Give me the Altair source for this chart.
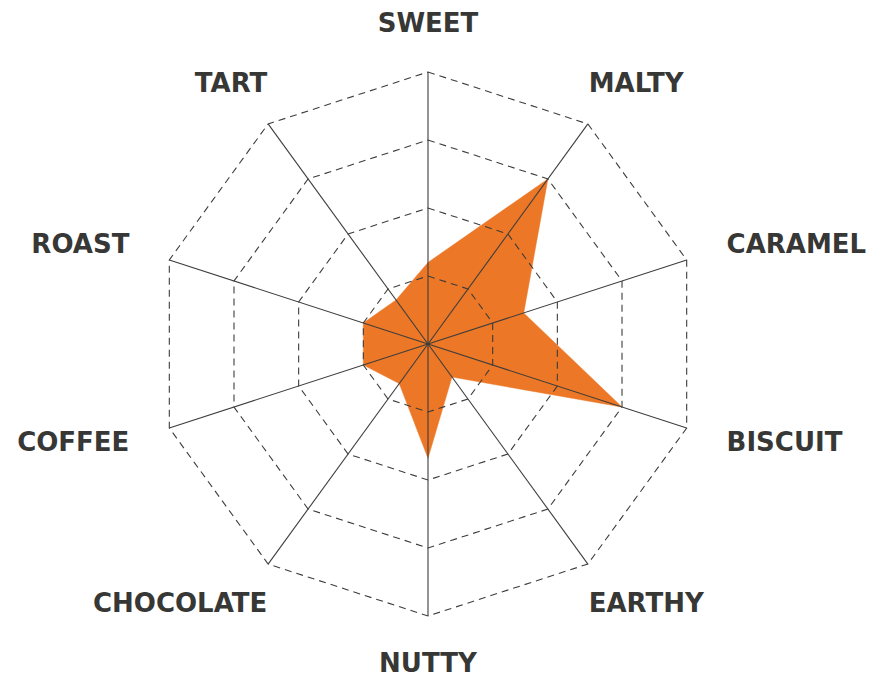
import altair as alt
import numpy as np
import pandas as pd

# ---- data ----
categories = ["SWEET", "MALTY", "CARAMEL", "BISCUIT", "EARTHY",
              "NUTTY", "CHOCOLATE", "COFFEE", "ROAST", "TART"]
values = [30, 75, 37, 75, 15, 42, 18, 25, 25, 20]
ring_levels = [25, 50, 75, 100]
max_value = 100

# ---- styling / geometry ----
ORANGE = "#EC7726"
LINE = "#3d3d3b"
TEXT = "#373735"
W, H = 872, 674
PX_PER_UNIT = 272 / max_value
CX, CY = 420, 336  # centre in plot pixels
xdom = [-CX / PX_PER_UNIT, (W - CX) / PX_PER_UNIT]
ydom = [-(H - CY) / PX_PER_UNIT, CY / PX_PER_UNIT]

n = len(categories)
angles = [i * 2 * np.pi / n for i in range(n)]  # clockwise from top


def xy(r, a):
    return r * np.sin(a), r * np.cos(a)


poly = pd.DataFrame([
    {"order": i, "x": xy(values[i], angles[i])[0], "y": xy(values[i], angles[i])[1]}
    for i in range(n)
])

rings = pd.DataFrame([
    {"ring": lv, "order": i, "x": xy(lv, angles[i])[0], "y": xy(lv, angles[i])[1]}
    for lv in ring_levels for i in range(n)
])

spokes = pd.DataFrame([
    {"x": 0.0, "y": 0.0, "x2": xy(max_value, a)[0], "y2": xy(max_value, a)[1]}
    for a in angles
])

# label anchors (computed from the axis angle)
lab_rows = []
for c, a in zip(categories, angles):
    s, co = np.sin(a), np.cos(a)
    if abs(s) < 0.1:
        r = 320 / PX_PER_UNIT
        lab_rows.append({"label": c, "side": "center", "x": 0.0, "y": r * np.sign(co)})
    else:
        r = 318
        xpx = np.sign(s) * (r * abs(s) - 40 * co * co)
        ypx = 321 * co
        lab_rows.append({"label": c, "side": "left" if s > 0 else "right",
                         "x": xpx / PX_PER_UNIT, "y": ypx / PX_PER_UNIT})
labels = pd.DataFrame(lab_rows)

xs = alt.Scale(domain=xdom, nice=False, zero=False)
ys = alt.Scale(domain=ydom, nice=False, zero=False)

area = alt.Chart(poly).mark_line(
    interpolate="linear-closed", fill=ORANGE, stroke=ORANGE, strokeWidth=0.5
).encode(
    x=alt.X("x:Q", scale=xs, axis=None),
    y=alt.Y("y:Q", scale=ys, axis=None),
    order="order:Q",
)

grid = alt.Chart(rings).mark_line(
    interpolate="linear-closed", color=LINE, strokeWidth=1.1, strokeDash=[7, 5]
).encode(
    x=alt.X("x:Q", scale=xs, axis=None),
    y=alt.Y("y:Q", scale=ys, axis=None),
    detail="ring:N",
    order="order:Q",
)

axes = alt.Chart(spokes).mark_rule(color=LINE, strokeWidth=1.1).encode(
    x=alt.X("x:Q", scale=xs, axis=None),
    y=alt.Y("y:Q", scale=ys, axis=None),
    x2="x2:Q",
    y2="y2:Q",
)

text_layers = []
for side in ["left", "right", "center"]:
    text_layers.append(
        alt.Chart(labels[labels.side == side]).mark_text(
            align=side, baseline="middle", font="DejaVu Sans", fontWeight="bold",
            fontSize=26, color=TEXT
        ).encode(
            x=alt.X("x:Q", scale=xs, axis=None),
            y=alt.Y("y:Q", scale=ys, axis=None),
            text="label:N",
        )
    )

chart = alt.layer(area, grid, axes, *text_layers).properties(
    width=W, height=H, padding=0, autosize=alt.AutoSizeParams(type="none")
).configure_view(strokeWidth=0)

chart.save("out.html", embed_options={"renderer": "svg", "actions": False})
